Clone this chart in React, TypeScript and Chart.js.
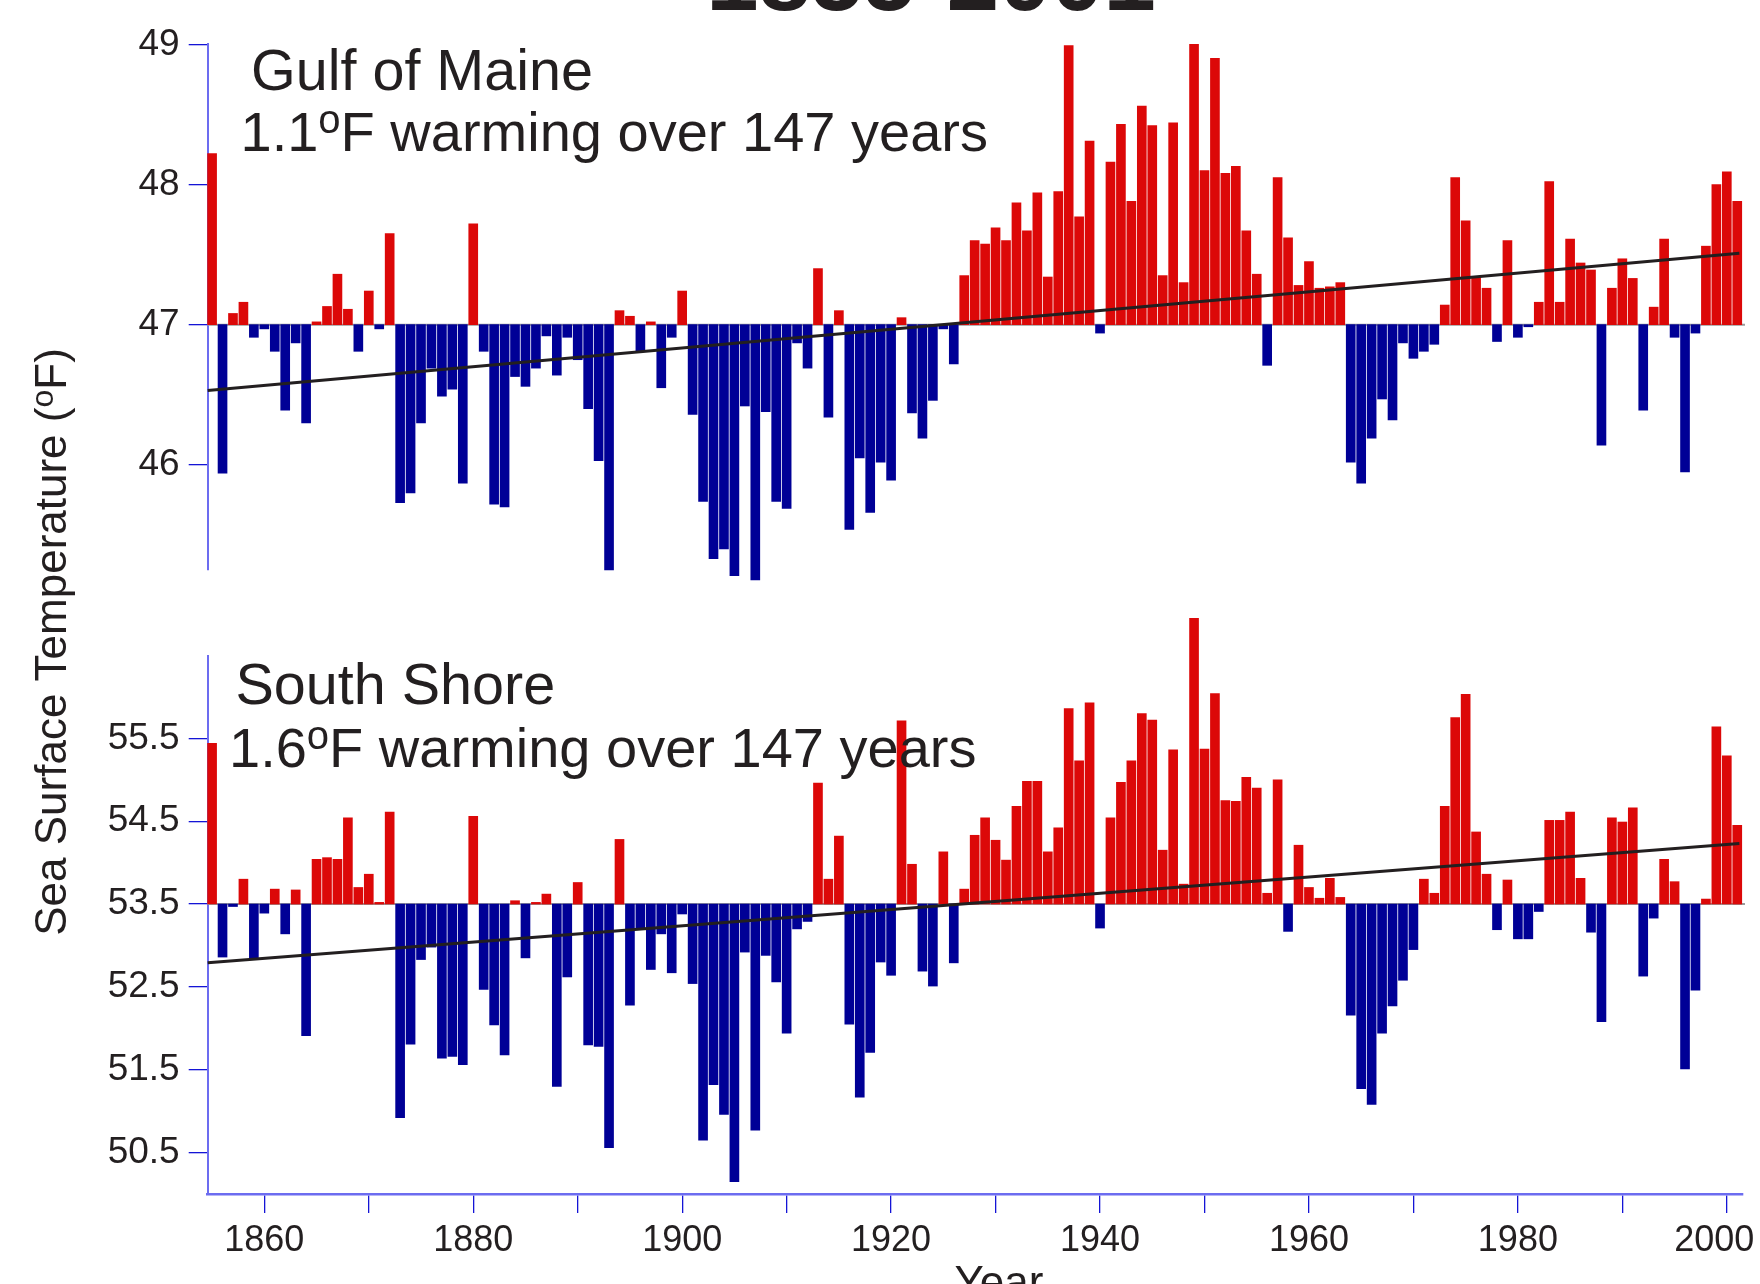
import React, { useEffect, useRef } from "react";
import { Chart, registerables } from "chart.js";

Chart.register(...registerables);

// ---------------- data ----------------
const START_YEAR = 1855;

const gulfOfMaine: number[] = [
  48.22, 45.94, 47.08, 47.16, 46.91, 46.97, 46.81, 46.39, 46.87, 46.30,
  47.02, 47.13, 47.36, 47.11, 46.81, 47.24, 46.97, 47.65, 45.73, 45.80,
  46.30, 46.69, 46.49, 46.54, 45.87, 47.72, 46.81, 45.72, 45.70, 46.63,
  46.56, 46.69, 46.92, 46.64, 46.91, 46.75, 46.40, 46.03, 45.25, 47.10,
  47.06, 46.81, 47.02, 46.55, 46.91, 47.24, 46.36, 45.74, 45.33, 45.40,
  45.21, 46.42, 45.18, 46.38, 45.74, 45.69, 46.87, 46.69, 47.40, 46.34,
  47.10, 45.54, 46.05, 45.66, 46.02, 45.89, 47.05, 46.37, 46.19, 46.46,
  46.97, 46.72, 47.35, 47.60, 47.575, 47.69, 47.60, 47.87, 47.67, 47.94,
  47.34, 47.95, 48.99, 47.77, 48.31, 46.94, 48.16, 48.43, 47.88, 48.56,
  48.42, 47.35, 48.44, 47.30, 49.00, 48.10, 48.90, 48.08, 48.13, 47.67,
  47.36, 46.71, 48.05, 47.62, 47.28, 47.45, 47.26, 47.27, 47.30, 46.02,
  45.87, 46.19, 46.47, 46.32, 46.87, 46.76, 46.81, 46.86, 47.14, 48.05,
  47.74, 47.34, 47.26, 46.88, 47.60, 46.91, 46.985, 47.16, 48.02, 47.16,
  47.61, 47.44, 47.39, 46.14, 47.26, 47.47, 47.33, 46.39, 47.125, 47.61,
  46.91, 45.95, 46.94, 47.56, 48.00, 48.09, 47.88,
];

const southShore: number[] = [
  55.44, 52.86, 53.47, 53.80, 52.83, 53.39, 53.68, 53.14, 53.67, 51.91,
  54.04, 54.06, 54.04, 54.54, 53.70, 53.86, 53.52, 54.61, 50.92, 51.81,
  52.83, 52.98, 51.64, 51.66, 51.56, 54.56, 52.47, 52.04, 51.68, 53.54,
  52.85, 53.52, 53.62, 51.30, 52.62, 53.76, 51.80, 51.78, 50.56, 54.28,
  52.28, 53.21, 52.71, 53.14, 52.67, 53.38, 52.54, 50.65, 51.32, 50.96,
  50.15, 52.92, 50.77, 52.88, 52.56, 51.94, 53.20, 53.29, 54.96, 53.80,
  54.32, 52.05, 51.17, 51.71, 52.80, 52.64, 55.71, 53.98, 52.69, 52.51,
  54.13, 52.79, 53.68, 54.33, 54.54, 54.27, 54.03, 54.68, 54.98, 54.98,
  54.13, 54.42, 55.86, 55.23, 55.93, 53.21, 54.54, 54.97, 55.23, 55.80,
  55.72, 54.15, 55.36, 53.74, 56.95, 55.37, 56.04, 54.75, 54.74, 55.03,
  54.90, 53.63, 55.00, 53.17, 54.21, 53.70, 53.57, 53.81, 53.58, 52.16,
  51.27, 51.08, 51.94, 52.27, 52.58, 52.95, 53.80, 53.63, 54.68, 55.75,
  56.03, 54.37, 53.86, 53.19, 53.79, 53.08, 53.08, 53.41, 54.51, 54.51,
  54.61, 53.81, 53.16, 52.08, 54.54, 54.49, 54.66, 52.63, 53.33, 54.04,
  53.77, 51.51, 52.46, 53.56, 55.64, 55.29, 54.45,
];

const years: number[] = gulfOfMaine.map((_, i) => START_YEAR + i);

const GOM_BASE = 47;
const SS_BASE = 53.5;

const trendYears = [1854.58, 2001.2];
const gomTrend = [46.53, 47.51];
const ssTrend = [52.79, 54.23];

const gomYTicks = [46, 47, 48, 49];
const ssYTicks = [50.5, 51.5, 52.5, 53.5, 54.5, 55.5];
const yearTicks = [1860, 1870, 1880, 1890, 1900, 1910, 1920, 1930, 1940, 1950, 1960, 1970, 1980, 1990, 2000];
const yearLabels = [1860, 1880, 1900, 1920, 1940, 1960, 1980, 2000];

const TITLE = "1855-2001";
const GOM_NAME = "Gulf of Maine";
const SS_NAME = "South Shore";
const GOM_NOTE = ["1.1", "o", "F warming over 147 years"];
const SS_NOTE = ["1.6", "o", "F warming over 147 years"];
const Y_TITLE = ["Sea Surface Temperature (", "o", "F)"];
const X_TITLE = "Year";

// ---------------- styles ----------------
const FONT = "'Liberation Sans', Arial, Helvetica, sans-serif";
const TEXT = "#231f20";
const RED = "#dc0808";
const BLUE = "#000096";
const AXIS = "#6c6cf0";
const TICK = "#1414d6";
const ZERO = "#9b9b9b";
const W = 1760;
const H = 1284;
const X_MIN = 1854.58;
const X_MAX = 2001.55;
const AXIS_W = 207.7;
const PAD_R = W - 1743;

type RichOpts = { size: number; supSize: number; rise: number; align: "left" | "center"; weight?: string };

function drawRich(ctx: CanvasRenderingContext2D, parts: string[], x: number, y: number, o: RichOpts) {
  const w = o.weight ?? "normal";
  const widths = parts.map((p, i) => {
    ctx.font = `${w} ${i === 1 ? o.supSize : o.size}px ${FONT}`;
    return ctx.measureText(p).width;
  });
  const total = widths.reduce((a, b) => a + b, 0);
  let cx = o.align === "center" ? x - total / 2 : x;
  ctx.textAlign = "left";
  ctx.textBaseline = "alphabetic";
  parts.forEach((p, i) => {
    ctx.font = `${w} ${i === 1 ? o.supSize : o.size}px ${FONT}`;
    ctx.fillText(p, cx, i === 1 ? y - o.rise : y);
    cx += widths[i];
  });
}

function makeBars(values: number[], base: number) {
  return {
    type: "bar" as const,
    data: values.map((v, i) => ({ x: years[i], y: [base, v] })),
    backgroundColor: values.map((v) => (v >= base ? RED : BLUE)),
    borderWidth: 0,
    barThickness: 9,
    clip: false as any,
    order: 2,
  };
}

function makeTrend(trend: number[]) {
  return {
    type: "line" as const,
    data: trendYears.map((x, i) => ({ x, y: trend[i] })),
    borderColor: TEXT,
    borderWidth: 3,
    pointRadius: 0,
    fill: false,
    clip: false as any,
    order: 1,
  };
}

function zeroLinePlugin(base: number) {
  return {
    id: "zeroLine",
    beforeDatasetsDraw(chart: any) {
      const { ctx, chartArea, scales } = chart;
      const y = scales.y.getPixelForValue(base);
      ctx.save();
      ctx.strokeStyle = ZERO;
      ctx.lineWidth = 2;
      ctx.beginPath();
      ctx.moveTo(chartArea.left, y);
      ctx.lineTo(chartArea.right + 2, y);
      ctx.stroke();
      ctx.restore();
    },
  };
}

function yScale(min: number, max: number, ticks: number[]) {
  return {
    type: "linear" as const,
    position: "left" as const,
    min,
    max,
    offset: false,
    afterBuildTicks: (s: any) => {
      s.ticks = ticks.map((v) => ({ value: v }));
    },
    afterFit: (s: any) => {
      s.width = AXIS_W;
      s.paddingTop = 0;
      s.paddingBottom = 0;
    },
    grid: { drawOnChartArea: false, drawTicks: true, tickLength: 19, color: TICK, lineWidth: 1.3, offset: false },
    border: { display: true, color: AXIS, width: 2 },
    ticks: {
      color: TEXT,
      font: { family: FONT, size: 37 },
      padding: 9,
      callback: (v: any) => String(v),
    },
  };
}

export default function App() {
  const topRef = useRef<HTMLCanvasElement>(null);
  const botRef = useRef<HTMLCanvasElement>(null);

  useEffect(() => {
    const topTexts = {
      id: "topTexts",
      afterDraw(chart: any) {
        const ctx = chart.ctx as CanvasRenderingContext2D;
        ctx.save();
        ctx.fillStyle = TEXT;
        // main title (mostly above the page)
        ctx.font = `bold 94px ${FONT}`;
        ctx.textAlign = "center";
        ctx.textBaseline = "alphabetic";
        ctx.fillText(TITLE, 931, 10);
        // panel label
        ctx.font = `57.5px ${FONT}`;
        ctx.textAlign = "left";
        ctx.fillText(GOM_NAME, 251, 90);
        drawRich(ctx, GOM_NOTE, 240.5, 151.4, { size: 56, supSize: 40, rise: 18, align: "left" });
        // y axis title
        ctx.save();
        ctx.translate(66, 642);
        ctx.rotate(-Math.PI / 2);
        drawRich(ctx, Y_TITLE, 0, 0, { size: 44, supSize: 32, rise: 13, align: "center" });
        ctx.restore();
        ctx.restore();
      },
    };

    const botTexts = {
      id: "botTexts",
      afterDraw(chart: any) {
        const ctx = chart.ctx as CanvasRenderingContext2D;
        ctx.save();
        ctx.fillStyle = TEXT;
        ctx.font = `57.5px ${FONT}`;
        ctx.textAlign = "left";
        ctx.textBaseline = "alphabetic";
        ctx.fillText(SS_NAME, 235.5, 704.4);
        drawRich(ctx, SS_NOTE, 229, 767.4, { size: 56, supSize: 40, rise: 18, align: "left" });
        ctx.font = `44px ${FONT}`;
        ctx.textAlign = "center";
        ctx.fillText(X_TITLE, 999, 1297);
        ctx.restore();
      },
    };

    const top = new Chart(topRef.current!, {
      type: "bar",
      data: { datasets: [makeBars(gulfOfMaine, GOM_BASE) as any, makeTrend(gomTrend) as any] },
      options: {
        animation: false,
        responsive: false,
        devicePixelRatio: 1,
        events: [],
        layout: { padding: { left: 0, right: PAD_R, top: 44.3, bottom: H - 570 } },
        plugins: { legend: { display: false }, tooltip: { enabled: false }, title: { display: false } },
        scales: {
          x: { type: "linear", min: X_MIN, max: X_MAX, display: false, offset: false, grid: { offset: false } } as any,
          y: yScale(45.25, 49, gomYTicks) as any,
        },
      },
      plugins: [zeroLinePlugin(GOM_BASE), topTexts],
    });

    const lastLabel = yearLabels[yearLabels.length - 1];

    const bot = new Chart(botRef.current!, {
      type: "bar",
      data: { datasets: [makeBars(southShore, SS_BASE) as any, makeTrend(ssTrend) as any] },
      options: {
        animation: false,
        responsive: false,
        devicePixelRatio: 1,
        events: [],
        layout: { padding: { left: 0, right: PAD_R, top: 655.5, bottom: 30 } },
        plugins: { legend: { display: false }, tooltip: { enabled: false }, title: { display: false } },
        scales: {
          x: {
            type: "linear",
            position: "bottom",
            min: X_MIN,
            max: X_MAX,
            offset: false,
            afterBuildTicks: (s: any) => {
              s.ticks = yearTicks.map((v) => ({ value: v }));
            },
            afterFit: (s: any) => {
              s.height = 60;
              s.paddingLeft = 0;
              s.paddingRight = 0;
            },
            grid: { drawOnChartArea: false, drawTicks: true, tickLength: 19, color: TICK, lineWidth: 1.3, offset: false },
            border: { display: true, color: AXIS, width: 2.5 },
            ticks: {
              color: TEXT,
              font: { family: FONT, size: 36 },
              padding: 6,
              autoSkip: false,
              maxRotation: 0,
              minRotation: 0,
              callback: (v: any) => {
                const n = Number(v);
                if (!yearLabels.includes(n)) return "";
                // keep the last label inside the page, as in the original
                return n === lastLabel ? String(n) + "\u2002\u2009" : String(n);
              },
            },
          } as any,
          y: yScale(50.0, 56.5, ssYTicks) as any,
        },
      },
      plugins: [zeroLinePlugin(SS_BASE), botTexts],
    });

    return () => {
      top.destroy();
      bot.destroy();
    };
  }, []);

  const cs: React.CSSProperties = { position: "absolute", left: 0, top: 0, width: W, height: H };
  return (
    <div style={{ position: "absolute", left: 0, top: 0, width: W, height: H, overflow: "hidden", background: "#fff" }}>
      <canvas ref={topRef} width={W} height={H} style={cs} />
      <canvas ref={botRef} width={W} height={H} style={cs} />
    </div>
  );
}
